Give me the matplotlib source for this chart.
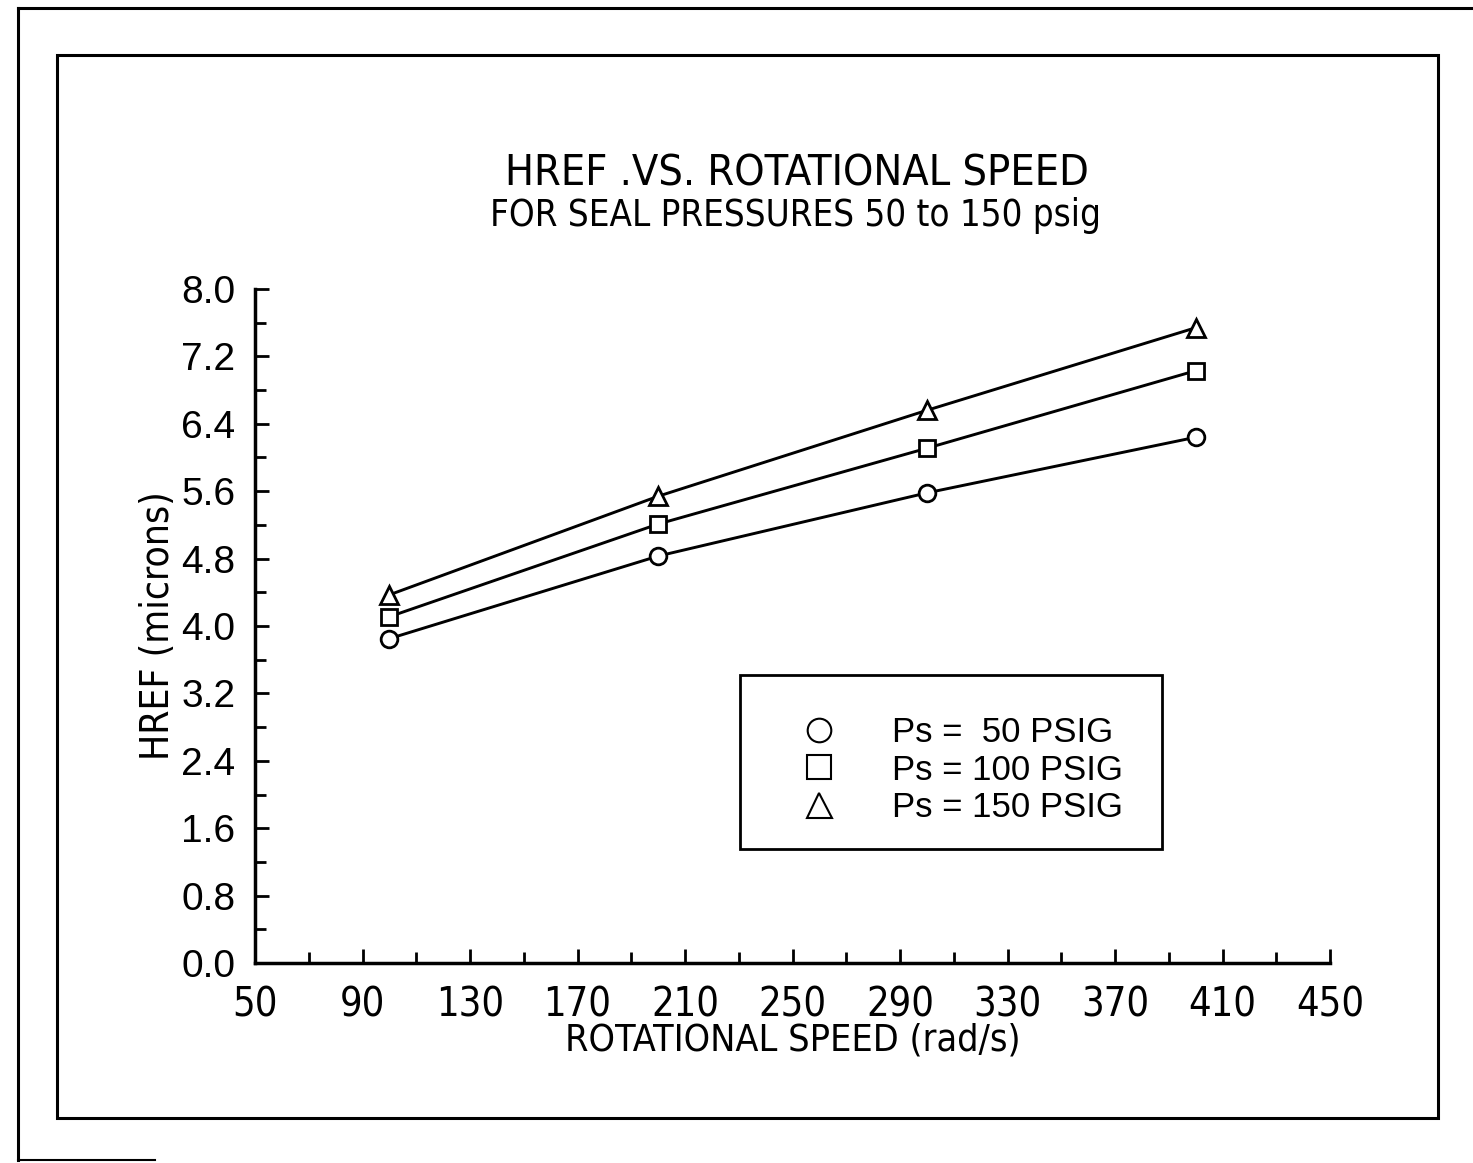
import numpy as np
import matplotlib
matplotlib.use('Agg')
import matplotlib.pyplot as plt
from matplotlib.patches import Rectangle
from matplotlib.lines import Line2D
from matplotlib.font_manager import FontProperties

# data
speed = [100, 200, 300, 400]
href_50 = [3.85, 4.83, 5.58, 6.24]
href_100 = [4.11, 5.21, 6.11, 7.03]
href_150 = [4.37, 5.54, 6.56, 7.54]
labels = ['Ps =  50 PSIG', 'Ps = 100 PSIG', 'Ps = 150 PSIG']
xticks = np.arange(50, 451, 40)
yticks = np.arange(0, 8.01, 0.8)

plain = ['Liberation Sans', 'DejaVu Sans']

def cond(size):
    return FontProperties(family='DejaVu Sans', stretch='condensed', size=size)

W, H = 1473, 1163
fig = plt.figure(figsize=(W/100, H/100), dpi=100)

# page frames
fig.add_artist(Rectangle((57/W, 1-1118/H), (1438-57)/W, (1118-55)/H,
                         transform=fig.transFigure, fill=False, lw=2.2, color='black'))
fig.add_artist(Line2D([18/W, 18/W], [1-1160/H, 1-8/H], transform=fig.transFigure, lw=2.2, color='black'))
fig.add_artist(Line2D([18/W, 1.0], [1-8/H, 1-8/H], transform=fig.transFigure, lw=2.2, color='black'))
fig.add_artist(Line2D([18/W, 155/W], [1-1160/H, 1-1160/H], transform=fig.transFigure, lw=1.5, color='black'))

ax = fig.add_axes([255/W, 1-963/H, (1330-255)/W, (963-289)/H])

mk = dict(color='black', lw=2.1, mfc='white', mec='black', mew=2.0)
ax.plot(speed, href_50, marker='o', ms=12, **mk)
ax.plot(speed, href_100, marker='s', ms=12, **mk)
ax.plot(speed, href_150, marker='^', ms=13, **mk)

ax.set_xlim(50, 450)
ax.set_ylim(0, 8.0)
ax.set_xticks(xticks)
ax.set_xticks(np.arange(70, 450, 40), minor=True)
ax.set_yticks(yticks)
ax.set_yticks(np.arange(0.4, 8.0, 0.8), minor=True)
ax.set_xticklabels([str(v) for v in xticks], fontproperties=cond(28.5))
ax.set_yticklabels(['%.1f' % v for v in yticks], family=plain, fontsize=28)
ax.tick_params(direction='in', which='major', length=10, width=2)
ax.tick_params(direction='in', which='minor', length=8, width=2)
ax.tick_params(axis='x', pad=16)
ax.tick_params(axis='y', pad=14)
for s in ['top', 'right']:
    ax.spines[s].set_visible(False)
for s in ['left', 'bottom']:
    ax.spines[s].set_linewidth(2.5)

ax.set_xlabel('ROTATIONAL SPEED (rad/s)', fontproperties=cond(27), labelpad=-2)
ax.set_ylabel('HREF (microns)', fontproperties=cond(28), labelpad=3)

fig.text(797/W, 1-173/H, 'HREF .VS. ROTATIONAL SPEED', fontproperties=cond(31),
         ha='center', va='center')
fig.text(795/W, 1-215/H, 'FOR SEAL PRESSURES 50 to 150 psig', fontproperties=cond(26.3),
         ha='center', va='center')

# legend box
fig.add_artist(Rectangle((740/W, 1-849/H), (1162-740)/W, (849-675)/H,
                         transform=fig.transFigure, fill=False, lw=2, color='black'))
handles = [Line2D([], [], ls='none', marker=m, ms=s, mfc='white', mec='black', mew=1.5)
           for m, s in zip(['o', 's', '^'], [17, 17, 18])]
fig.legend(handles, labels, loc='center', bbox_to_anchor=(962/W, 1-770/H),
           frameon=False, prop={'family': plain, 'size': 25},
           handletextpad=1.6, labelspacing=0.12, handlelength=1.0)

fig.savefig('out.png', dpi=100, facecolor='white')
